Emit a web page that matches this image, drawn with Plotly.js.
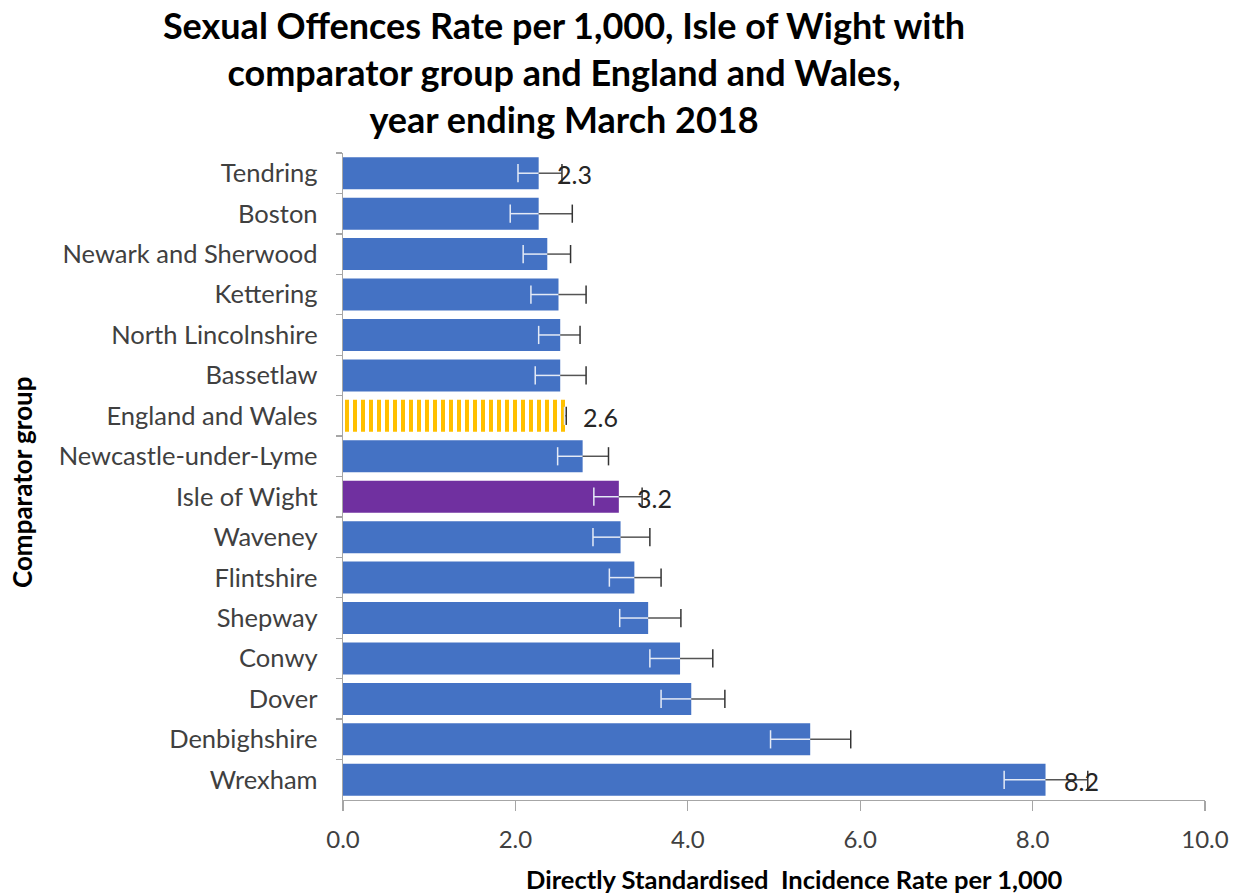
<!DOCTYPE html>
<html>
<head>
<meta charset="utf-8">
<script src="https://cdn.plot.ly/plotly-3.0.1.min.js"></script>
<style>html,body{margin:0;padding:0;background:#fff;}#chart{width:1242px;height:896px;}</style>
</head>
<body>
<div id="chart"></div>
<script>
// ---- data ----
const categories = ["Tendring","Boston","Newark and Sherwood","Kettering","North Lincolnshire","Bassetlaw","England and Wales","Newcastle-under-Lyme","Isle of Wight","Waveney","Flintshire","Shepway","Conwy","Dover","Denbighshire","Wrexham"];
const rates = [2.27, 2.27, 2.37, 2.50, 2.52, 2.52, 2.58, 2.78, 3.20, 3.22, 3.38, 3.54, 3.91, 4.04, 5.42, 8.15];
const lowerCI = [2.03, 1.94, 2.09, 2.18, 2.27, 2.23, 2.57, 2.49, 2.91, 2.90, 3.09, 3.21, 3.56, 3.69, 4.96, 7.67];
const upperCI = [2.54, 2.66, 2.64, 2.82, 2.75, 2.82, 2.59, 3.08, 3.47, 3.56, 3.69, 3.92, 4.29, 4.43, 5.89, 8.64];
const labelledAreas = ["Tendring","England and Wales","Isle of Wight","Wrexham"];
const focusArea = "Isle of Wight";
const nationalArea = "England and Wales";
const xTickValues = [0, 2, 4, 6, 8, 10];

const FONT = "Lato, 'Open Sans', sans-serif";
const BLUE = "#4472C4", PURPLE = "#7030A0", GOLD = "#FFC000";

const barColors = categories.map(c => c === focusArea ? PURPLE : (c === nationalArea ? GOLD : BLUE));
const patternShapes = categories.map(c => c === nationalArea ? "|" : "");

const barTrace = {
  type: "bar", orientation: "h",
  x: rates, y: categories,
  marker: {
    color: barColors,
    line: {width: 0},
    pattern: {shape: patternShapes, size: 8, solidity: 0.5, bgcolor: "#ffffff", fillmode: "replace"}
  },
  hoverinfo: "x+y", showlegend: false
};

// lower part of CI (light, crosses the bar)
const lowTrace = {
  type: "scatter", mode: "markers",
  x: lowerCI, y: categories,
  marker: {symbol: "line-ns-open", size: 13, color: "#e4eaf6", line: {width: 1.5, color: "#e4eaf6"}},
  error_x: {type: "data", symmetric: false, array: rates.map((r, i) => r - lowerCI[i]), arrayminus: rates.map(() => 0), width: 0, thickness: 1.5, color: "#e4eaf6"},
  hoverinfo: "skip", showlegend: false
};
// upper part of CI (dark)
const highTrace = {
  type: "scatter", mode: "markers",
  x: upperCI, y: categories,
  marker: {symbol: "line-ns-open", size: 13, color: "#333333", line: {width: 1.5, color: "#333333"}},
  error_x: {type: "data", symmetric: false, array: rates.map(() => 0), arrayminus: upperCI.map((u, i) => u - rates[i]), width: 0, thickness: 1.5, color: "#555555"},
  hoverinfo: "skip", showlegend: false
};

const labelAnns = categories.map((c, i) => labelledAreas.includes(c) ? {
  x: rates[i], y: c, xref: "x", yref: "y", text: rates[i].toFixed(1),
  showarrow: false, xanchor: "left", xshift: 16, yshift: -1,
  font: {family: FONT, size: 25, color: "#262626"}
} : null).filter(Boolean);

const layout = {
  width: 1242, height: 896,
  margin: {l: 343, r: 37, t: 153, b: 96},
  paper_bgcolor: "#ffffff", plot_bgcolor: "#ffffff",
  bargap: 0.21,
  title: {
    text: "<b>Sexual Offences Rate per 1,000, Isle of Wight with<br>comparator group and England and Wales,<br>year ending March 2018</b>",
    font: {family: FONT, size: 36, color: "#000000"},
    x: 564 / 1242, xanchor: "center", xref: "container",
    y: 1 - 39 / 896, yanchor: "middle", yref: "container"
  },
  xaxis: {
    range: [0, 10], tickvals: xTickValues, ticktext: xTickValues.map(v => v.toFixed(1)),
    showgrid: false, zeroline: false,
    showline: true, linecolor: "#a6a6a6", linewidth: 1.3,
    ticks: "outside", ticklen: 10, tickcolor: "#a6a6a6", tickwidth: 1.3,
    tickfont: {family: FONT, size: 24, color: "#404040"},
    ticklabelstandoff: 8,
    fixedrange: true
  },
  yaxis: {
    type: "category", range: [categories.length - 0.5, -0.5],
    showgrid: false, zeroline: false,
    showline: true, linecolor: "#a6a6a6", linewidth: 1.3,
    ticks: "outside", ticklen: 6, tickcolor: "#a6a6a6", tickwidth: 1.3, tickson: "boundaries",
    tickfont: {family: FONT, size: 25.5, color: "#404040"},
    ticklabelstandoff: 19,
    fixedrange: true
  },
  annotations: labelAnns.concat([
    {
      text: "<b>Directly Standardised  Incidence Rate per 1,000</b>",
      xref: "paper", yref: "paper", x: (794 - 343) / 862, y: (800 - 879) / 647,
      xanchor: "center", yanchor: "middle", showarrow: false,
      font: {family: FONT, size: 25.5, color: "#000000"}
    },
    {
      text: "<b>Comparator group</b>",
      xref: "paper", yref: "paper", x: (22 - 343) / 862, y: (800 - 482) / 647,
      xanchor: "center", yanchor: "middle", showarrow: false, textangle: -90,
      font: {family: FONT, size: 26, color: "#000000"}
    }
  ])
};

Plotly.newPlot("chart", [barTrace, lowTrace, highTrace], layout, {displayModeBar: false, staticPlot: true});
</script>
</body>
</html>
